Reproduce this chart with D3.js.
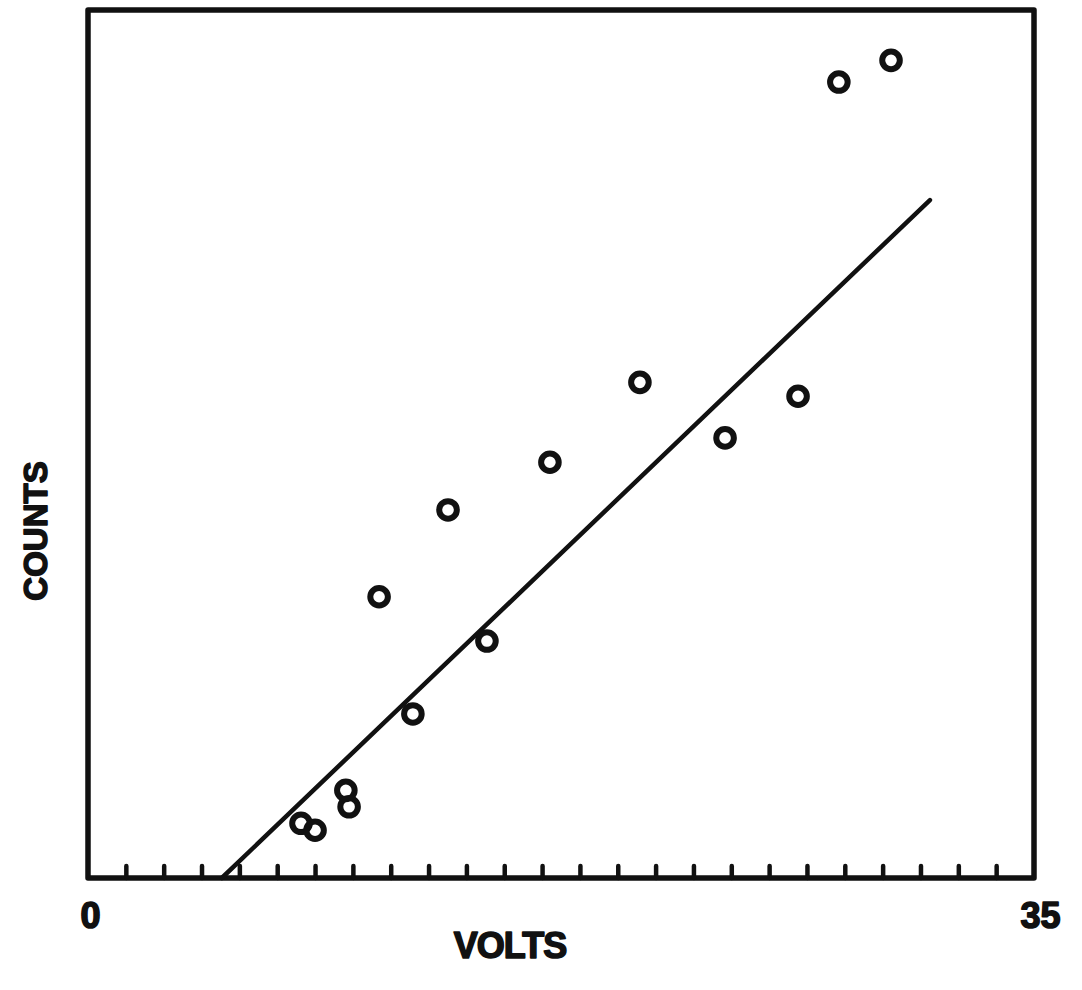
<!DOCTYPE html>
<html>
<head>
<meta charset="utf-8">
<script src="https://cdn.jsdelivr.net/npm/d3@7"></script>
<style>
  html, body { margin: 0; padding: 0; background: #fff; }
  svg { display: block; }
  text { font-family: "Liberation Sans", Arial, sans-serif; font-weight: bold; fill: #111; }
</style>
</head>
<body>
<svg id="chart" width="1082" height="990"></svg>
<script>
// ---- data ----
const volts  = [29.71, 27.78, 20.42, 26.27, 23.57, 17.09, 13.32, 10.77, 14.76, 12.02, 9.54, 9.66, 7.88, 8.40];
const counts = [94.2, 91.7, 57.1, 55.5, 50.7, 47.9, 42.4, 32.4, 27.3, 18.9, 10.1, 8.2, 6.3, 5.5];
const fitVolts  = [4.95, 31.15];
const fitCounts = [0, 78.1];
const minorTicks = [1.4, 2.8, 4.2, 5.6, 7, 8.4, 9.8, 11.2, 12.6, 14, 15.4, 16.8, 18.2, 19.6, 21, 22.4, 23.8, 25.2, 26.6, 28, 29.4, 30.8, 32.2, 33.6];
const endTicks = [0, 35];
const endTickLabels = ["0", "35"];
const xTitle = "VOLTS";
const yTitle = "COUNTS";

// ---- drawing ----
const svg = d3.select("#chart");
const ink = "#111";
const x = d3.scaleLinear().domain([0, 35]).range([88, 1034]);
const y = d3.scaleLinear().domain([0, 100]).range([878, 10]);

// frame
svg.append("rect")
  .attr("x", x(0)).attr("y", y(100))
  .attr("width", x(35) - x(0)).attr("height", y(0) - y(100))
  .attr("fill", "none").attr("stroke", ink).attr("stroke-width", 5.5)
  .attr("stroke-linejoin", "round");

// inward minor ticks
const axisG = svg.append("g").attr("transform", `translate(0,${y(0)})`)
  .call(d3.axisBottom(x).tickValues(minorTicks).tickSize(-12).tickFormat(""));
axisG.select(".domain").remove();
axisG.selectAll(".tick line").attr("stroke", ink).attr("stroke-width", 4.5).attr("stroke-linecap", "round");

// end labels
const labG = svg.append("g").attr("transform", `translate(0,${y(0)})`)
  .call(d3.axisBottom(x).tickValues(endTicks).tickSize(0).tickPadding(24)
    .tickFormat((d, i) => endTickLabels[i]));
labG.select(".domain").remove();
labG.selectAll(".tick text")
  .attr("font-size", 36).attr("font-family", "Liberation Sans, Arial, sans-serif")
  .attr("font-weight", "bold").attr("fill", ink)
  .attr("stroke", ink).attr("stroke-width", 1.6).attr("stroke-linejoin", "round")
  .attr("dx", (d) => d === 35 ? 6 : 2);

// fitted line
const line = d3.line().x(d => x(d[0])).y(d => y(d[1]));
svg.append("path")
  .datum(fitVolts.map((v, i) => [v, fitCounts[i]]))
  .attr("d", line)
  .attr("fill", "none").attr("stroke", ink).attr("stroke-width", 4.5).attr("stroke-linecap", "round");

// points
svg.append("g").selectAll("circle")
  .data(volts.map((v, i) => [v, counts[i]]))
  .join("circle")
  .attr("cx", d => x(d[0])).attr("cy", d => y(d[1]))
  .attr("r", 8.8)
  .attr("fill", "none").attr("stroke", ink).attr("stroke-width", 6);

// titles
svg.append("text")
  .attr("x", 510).attr("y", 958)
  .attr("text-anchor", "middle").attr("font-size", 36)
  .attr("letter-spacing", -1)
  .attr("stroke", ink).attr("stroke-width", 1.6).attr("stroke-linejoin", "round")
  .text(xTitle);

svg.append("text")
  .attr("transform", "translate(47,531) rotate(-90)")
  .attr("text-anchor", "middle").attr("font-size", 33)
  .attr("stroke", ink).attr("stroke-width", 1.5).attr("stroke-linejoin", "round")
  .text(yTitle);
</script>
</body>
</html>
